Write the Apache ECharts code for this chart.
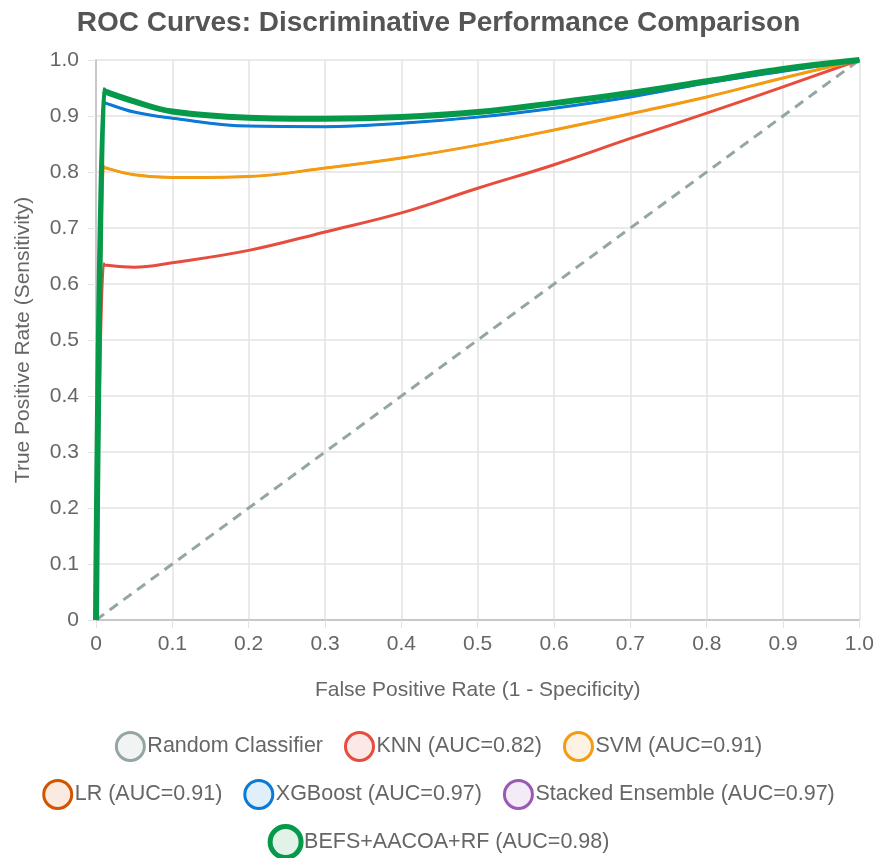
<!DOCTYPE html>
<html>
<head>
<meta charset="utf-8">
<script src="https://cdn.jsdelivr.net/npm/echarts@6/dist/echarts.min.js"></script>
<style>
  html, body { margin: 0; padding: 0; background: #fff; }
  #chart { width: 877px; height: 858px; }
</style>
</head>
<body>
<div id="chart"></div>
<script>
// false positive rate points the curves were read at
const fpr = [0, 0.01, 0.011, 0.05, 0.1, 0.2, 0.3, 0.4, 0.5, 0.6, 0.7, 0.8, 0.9, 1.0];

const randomTpr = [0, 1];
const randomFpr = [0, 1];
const knnTpr   = [0, 0.636, 0.634, 0.630, 0.638, 0.660, 0.693, 0.727, 0.771, 0.813, 0.860, 0.905, 0.952, 1.0];
const svmTpr   = [0, 0.810, 0.808, 0.795, 0.790, 0.792, 0.807, 0.825, 0.848, 0.875, 0.904, 0.934, 0.968, 1.0];
const lrTpr    = [0, 0.810, 0.808, 0.795, 0.790, 0.792, 0.807, 0.825, 0.848, 0.875, 0.904, 0.934, 0.968, 1.0];
const xgbTpr   = [0, 0.926, 0.924, 0.907, 0.896, 0.882, 0.881, 0.887, 0.898, 0.914, 0.934, 0.959, 0.980, 1.0];
const stackTpr = [0, 0.926, 0.924, 0.907, 0.896, 0.882, 0.881, 0.887, 0.898, 0.914, 0.934, 0.959, 0.980, 1.0];
const befsTpr  = [0, 0.946, 0.944, 0.926, 0.908, 0.897, 0.895, 0.898, 0.907, 0.923, 0.941, 0.962, 0.984, 1.0];

const names = [
  'Random Classifier', 'KNN (AUC=0.82)', 'SVM (AUC=0.91)', 'LR (AUC=0.91)',
  'XGBoost (AUC=0.97)', 'Stacked Ensemble (AUC=0.97)', 'BEFS+AACOA+RF (AUC=0.98)'
];
const colors = ['#95a5a6', '#e74c3c', '#f39c12', '#d35400', '#0a7ad6', '#9b59b6', '#06994a'];
const fills = [
  'rgba(149,165,166,0.12)', 'rgba(231,76,60,0.12)', 'rgba(243,156,18,0.12)', 'rgba(211,84,0,0.12)',
  'rgba(10,122,214,0.12)', 'rgba(155,89,182,0.12)', 'rgba(6,153,74,0.12)'
];

const font = 'Arial, "Liberation Sans", sans-serif';

function pairs(xs, ys) {
  return xs.map((x, i) => [x, ys[i]]);
}

function legendItem(i, bw) {
  return {
    name: names[i],
    itemStyle: { color: fills[i], borderColor: colors[i], borderWidth: bw }
  };
}

function curve(i, tpr, width, z) {
  return {
    name: names[i],
    type: 'line',
    data: pairs(fpr, tpr),
    smooth: 0.4,
    showSymbol: false,
    z: z,
    lineStyle: { color: colors[i], width: width },
    itemStyle: { color: colors[i] }
  };
}

const chart = echarts.init(document.getElementById('chart'));
const legendCommon = {
  left: 'center',
  icon: 'circle',
  itemWidth: 28,
  itemHeight: 28,
  itemGap: 21,
  textStyle: { color: '#666', fontSize: 21.5, fontFamily: font, padding: [0, 0, 0, -2] }
};

chart.setOption({
  animation: false,
  title: {
    text: 'ROC Curves: Discriminative Performance Comparison',
    left: 'center',
    top: 4,
    textStyle: { color: '#555', fontSize: 28, fontWeight: 'bold', fontFamily: font }
  },
  legend: [
    Object.assign({}, legendCommon, { top: 726, data: [0, 1, 2].map(i => legendItem(i, 3)) }),
    Object.assign({}, legendCommon, { top: 774, data: [3, 4, 5].map(i => legendItem(i, 3)) }),
    Object.assign({}, legendCommon, { top: 819, itemWidth: 31, itemHeight: 31,
      data: [legendItem(6, 5)] })
  ],
  grid: { left: 96, right: 17, top: 60, bottom: 238 },
  xAxis: {
    type: 'value',
    min: 0, max: 1, interval: 0.1,
    name: 'False Positive Rate (1 - Specificity)',
    nameLocation: 'middle',
    nameGap: 60,
    nameTextStyle: { color: '#666', fontSize: 21, fontFamily: font },
    axisLine: { show: true, lineStyle: { color: '#c8c8c8', width: 2 } },
    axisTick: { show: true, length: 8, lineStyle: { color: '#e3e3e3' } },
    axisLabel: {
      color: '#666', fontSize: 21, fontFamily: font, margin: 14,
      formatter: v => (v === 0 ? '0' : v.toFixed(1))
    },
    splitLine: { show: true, lineStyle: { color: '#e3e3e3', width: 1.5 } }
  },
  yAxis: {
    type: 'value',
    min: 0, max: 1, interval: 0.1,
    name: 'True Positive Rate (Sensitivity)',
    nameLocation: 'middle',
    nameGap: 62,
    nameTextStyle: { color: '#666', fontSize: 21, fontFamily: font },
    axisLine: { show: true, lineStyle: { color: '#c8c8c8', width: 2 } },
    axisTick: { show: true, length: 8, lineStyle: { color: '#e3e3e3' } },
    axisLabel: {
      color: '#666', fontSize: 21, fontFamily: font, margin: 17,
      formatter: v => (v === 0 ? '0' : v.toFixed(1))
    },
    splitLine: { show: true, lineStyle: { color: '#e3e3e3', width: 1.5 } }
  },
  series: [
    {
      name: names[0],
      type: 'line',
      data: pairs(randomFpr, randomTpr),
      showSymbol: false,
      z: 2,
      lineStyle: { color: colors[0], width: 3, type: [10, 7] },
      itemStyle: { color: colors[0] }
    },
    curve(3, lrTpr, 2, 2),
    curve(5, stackTpr, 2, 2),
    curve(1, knnTpr, 3, 3),
    curve(2, svmTpr, 3, 3),
    curve(4, xgbTpr, 3, 3),
    curve(6, befsTpr, 6, 4)
  ]
});
</script>
</body>
</html>
